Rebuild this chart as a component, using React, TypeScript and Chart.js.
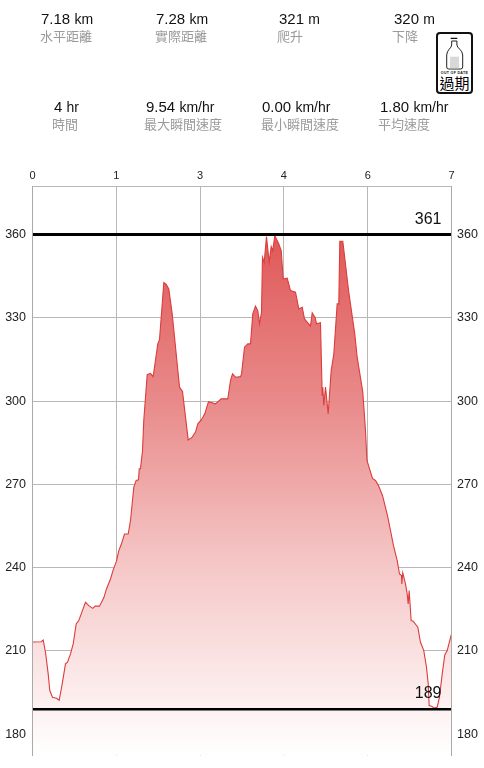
import React, { useEffect, useRef } from "react";
import { Chart, registerables } from "chart.js";

Chart.register(...registerables);

const distanceKm = [
  0, 0.145, 0.179, 0.217, 0.262, 0.289, 0.334, 0.401, 0.446, 0.496, 0.551, 0.585, 0.635, 0.68, 0.73, 0.773, 0.885, 0.941, 1.007, 1.047,
  1.119, 1.191, 1.236, 1.303, 1.348, 1.403, 1.442, 1.482, 1.537, 1.599, 1.637, 1.692, 1.732, 1.771, 1.783, 1.804, 1.838, 1.859, 1.916, 1.971,
  2.016, 2.093, 2.122, 2.194, 2.234, 2.277, 2.334, 2.456, 2.506, 2.601, 2.668, 2.723, 2.762, 2.823, 2.878, 2.94, 3.057, 3.152, 3.263, 3.308,
  3.341, 3.391, 3.475, 3.492, 3.542, 3.597, 3.642, 3.68, 3.725, 3.764, 3.792, 3.826, 3.842, 3.871, 3.909, 3.954, 3.988, 4.014, 4.048, 4.115,
  4.155, 4.188, 4.255, 4.31, 4.394, 4.449, 4.506, 4.544, 4.644, 4.673, 4.723, 4.745, 4.811, 4.84, 4.85, 4.866, 4.895, 4.94, 4.99, 5.034,
  5.09, 5.117, 5.134, 5.184, 5.284, 5.384, 5.424, 5.518, 5.563, 5.588, 5.613, 5.68, 5.73, 5.78, 5.847, 5.931, 6.031, 6.093, 6.131, 6.165,
  6.17, 6.186, 6.231, 6.26, 6.276, 6.293, 6.326, 6.36, 6.437, 6.482, 6.537, 6.582, 6.611, 6.627, 6.677, 6.704, 6.761, 6.799, 6.845, 6.888,
  6.928, 7,
];
const elevationM = [
  213.2, 213.3, 213.9, 209.5, 201.7, 195.7, 193.3, 192.9, 192.2, 198.1, 205.3, 205.9, 208.9, 212.5, 219.7, 220.9, 227.5, 226.3, 225.3, 226.1,
  226.1, 229.1, 232.3, 235.9, 239.2, 242.3, 246.1, 248.3, 252.1, 252.1, 256.9, 268.9, 271.4, 271.6, 275.6, 275.6, 282.2, 293, 309.5, 310,
  308.8, 320.6, 322.2, 342.7, 342, 340.4, 331.4, 305, 303.5, 286, 287, 288.8, 291.8, 293.3, 295.4, 299.8, 299, 300.8, 300.8, 307.4,
  309.8, 308.6, 308.8, 309.8, 319.4, 320.6, 320.6, 331.4, 334.2, 332.6, 327.8, 332, 351.8, 350, 359.3, 350, 355.7, 354.2, 359.6, 356.6,
  354.2, 344, 344.3, 339.8, 339.2, 333.2, 333.8, 329.6, 327, 331.8, 330, 327.8, 328.2, 302, 305, 298.4, 305, 295.4, 311, 317,
  335, 335, 357.6, 357.6, 339.2, 324.2, 315.8, 303.2, 289.4, 278.6, 276.8, 272.1, 271.4, 269.6, 266, 258.7, 247.9, 242.5, 237.7, 237.1,
  234.1, 238.1, 234.1, 230.5, 226.9, 231.7, 220.9, 220.7, 218.5, 213.1, 210.1, 204.1, 198.1, 190.3, 190, 189.4, 189.7, 193.3, 201.7, 208.5,
  210.1, 216.1,
];
const xTickValues = [0, 1.4, 2.8, 4.2, 5.6, 7];
const xTickLabels = ["0", "1", "3", "4", "6", "7"];
const yTickValues = [180, 210, 240, 270, 300, 330, 360];
const maxLineValue = 360;
const minLineValue = 189;
const maxLabel = "361";
const minLabel = "189";

const statNumbers = ["7.18", "7.28", "321", "320", "4", "9.54", "0.00", "1.80"];
const statUnits = ["km", "km", "m", "m", "hr", "km/hr", "km/hr", "km/hr"];
const statLabels = ["水平距離", "實際距離", "爬升", "下降", "時間", "最大瞬間速度", "最小瞬間速度", "平均速度"];
const statValueX = [41, 156, 279, 394, 54, 146, 262, 380];
const statLabelX = [40, 155, 277, 392, 52, 144, 261, 378];

const SANS = '"Liberation Sans", Arial, sans-serif';
const CJK = '"Noto Sans CJK TC", sans-serif';
const GRID = "#b8b8b8";

const refLabels = {
  id: "refLabels",
  afterDatasetsDraw(chart: any) {
    const { ctx, scales } = chart;
    ctx.save();
    ctx.font = `16px ${SANS}`;
    ctx.fillStyle = "#111";
    ctx.textAlign = "right";
    ctx.textBaseline = "alphabetic";
    const x = scales.x.getPixelForValue(7) - 10;
    ctx.fillText(maxLabel, x, scales.y.getPixelForValue(maxLineValue) - 11);
    ctx.fillText(minLabel, x, scales.y.getPixelForValue(minLineValue) - 11);
    ctx.restore();
  },
};

function Badge() {
  return (
    <div
      style={{
        position: "absolute", left: 436, top: 32, width: 33, height: 58, border: "2px solid #111",
        borderRadius: 4, background: "#fff", textAlign: "center", overflow: "hidden", opacity: 0.999,
      }}
    >
      <svg width="33" height="37" viewBox="0 0 33 37" style={{ position: "absolute", left: 0, top: 0 }}>
        <path d="M12.7 4.4 H19.3" stroke="#111" strokeWidth="1.2" fill="none" />
        <path
          d="M13.7 7 H18.9 V11 C18.9 14 24.7 16 24.7 21 V33 Q24.7 35 22.7 35 H10.7 Q8.7 35 8.7 33 V21 C8.7 16 13.7 14 13.7 11 Z"
          stroke="#222" strokeWidth="1" fill="#fff"
        />
        <rect x="12" y="22.7" width="9" height="11.6" fill="#d8d8d8" />
      </svg>
      <div style={{ position: "absolute", left: 0, right: 0, top: 37, font: `bold 3.6px ${SANS}`, lineHeight: "4px", color: "#111", whiteSpace: "nowrap", letterSpacing: 0.3 }}>
        OUT OF DATE
      </div>
      <div style={{ position: "absolute", left: 0, right: 0, top: 40, font: `400 15px ${CJK}`, lineHeight: "18px", color: "#000", whiteSpace: "nowrap" }}>
        過期
      </div>
    </div>
  );
}

export default function App() {
  const canvasRef = useRef<HTMLCanvasElement | null>(null);

  useEffect(() => {
    const chart = new Chart(canvasRef.current as HTMLCanvasElement, {
      type: "line",
      data: {
        datasets: [
          {
            data: [{ x: 0, y: maxLineValue }, { x: 7, y: maxLineValue }],
            borderColor: "#000", borderWidth: 3, pointRadius: 0, fill: false,
          },
          {
            data: [{ x: 0, y: minLineValue }, { x: 7, y: minLineValue }],
            borderColor: "#000", borderWidth: 2.5, pointRadius: 0, fill: false,
          },
          {
            data: distanceKm.map((x, i) => ({ x, y: elevationM[i] })),
            borderColor: "#dc3c3c", borderWidth: 1.1, pointRadius: 0, tension: 0, fill: "start",
            backgroundColor: (c: any) => {
              const area = c.chart.chartArea;
              if (!area) return "#fff";
              const top = c.chart.scales.y.getPixelForValue(maxLineValue);
              const g = c.chart.ctx.createLinearGradient(0, top, 0, area.bottom);
              g.addColorStop(0, "#e05858");
              g.addColorStop(0.32, "#e98a8a");
              g.addColorStop(0.63, "#f5c6c6");
              g.addColorStop(0.9, "#fdf0f0");
              g.addColorStop(1, "#ffffff");
              return g;
            },
          },
        ],
      },
      options: {
        animation: false,
        responsive: false,
        parsing: false,
        normalized: true,
        layout: { padding: { top: 0, left: 0, right: 0, bottom: 12.5 } },
        plugins: { legend: { display: false }, tooltip: { enabled: false } },
        scales: {
          x: {
            type: "linear", position: "top", min: 0, max: 7,
            afterBuildTicks: (s: any) => { s.ticks = xTickValues.map((value) => ({ value })); },
            afterFit: (s: any) => { s.height = 186.5; s.paddingLeft = 0; s.paddingRight = 0; },
            grid: { color: GRID, drawTicks: false },
            border: { color: GRID },
            ticks: {
              padding: 3.5, maxRotation: 0, autoSkip: false, color: "#222", font: { family: SANS, size: 11 },
              callback: (v: any) => xTickLabels[xTickValues.indexOf(v)],
            },
          },
          y: {
            type: "linear", position: "left", min: 172.3, max: 377.3,
            afterBuildTicks: (s: any) => { s.ticks = yTickValues.map((value) => ({ value })); },
            afterFit: (s: any) => { s.width = 32.5; s.paddingTop = 0; s.paddingBottom = 0; },
            grid: { color: GRID, drawTicks: false },
            border: { color: "#aaaaaa", z: 1 },
            ticks: { padding: 6.5, color: "#222", font: { family: SANS, size: 12.5 } },
          },
          yRight: {
            type: "linear", position: "right", min: 172.3, max: 377.3,
            afterBuildTicks: (s: any) => { s.ticks = yTickValues.map((value) => ({ value })); },
            afterFit: (s: any) => { s.width = 32.5; s.paddingTop = 0; s.paddingBottom = 0; },
            grid: { display: false, drawTicks: false },
            border: { color: "#aaaaaa", z: 1 },
            ticks: { padding: 5.5, color: "#222", font: { family: SANS, size: 12.5 } },
          },
        },
      } as any,
      plugins: [refLabels],
    } as any);
    return () => chart.destroy();
  }, []);

  return (
    <div style={{ position: "absolute", left: 0, top: 0, width: 484, height: 768, background: "#fff", overflow: "hidden" }}>
      <canvas ref={canvasRef} width={484} height={768} style={{ position: "absolute", left: 0, top: 0, width: 484, height: 768 }} />
      {statNumbers.map((n, i) => {
        const top = i < 4 ? 10 : 98;
        return (
          <React.Fragment key={i}>
            <div style={{ position: "absolute", left: statValueX[i], top, font: `15px ${SANS}`, lineHeight: "18px", color: "#111", whiteSpace: "nowrap" }}>
              {n} <span style={{ fontSize: 14 }}>{statUnits[i]}</span>
            </div>
            <div style={{ position: "absolute", left: statLabelX[i], top: top + 16, font: `13px ${CJK}`, lineHeight: "19px", color: "#9a9a9a", whiteSpace: "nowrap" }}>
              {statLabels[i]}
            </div>
          </React.Fragment>
        );
      })}
      <Badge />
    </div>
  );
}
